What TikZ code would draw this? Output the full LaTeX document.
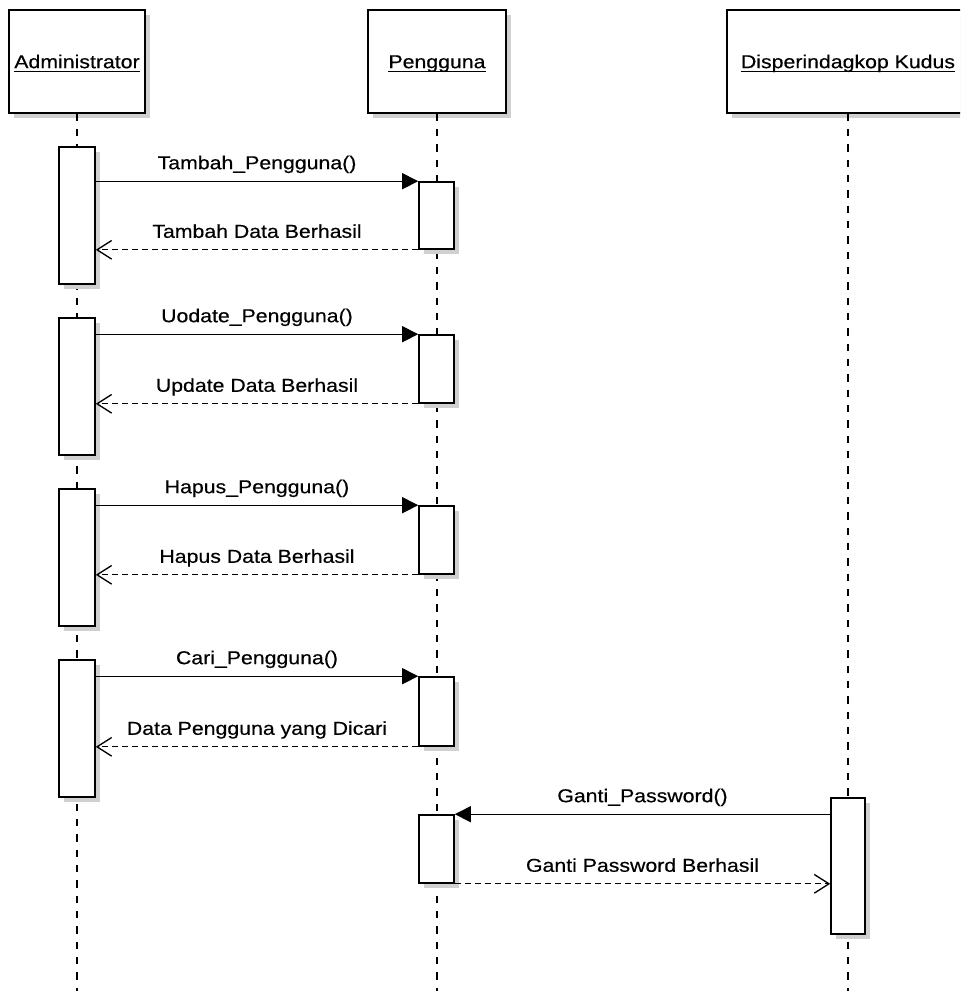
\documentclass[tikz,border=0pt]{standalone}
\usepackage{fontspec}
\setmainfont{Liberation Sans}[FakeStretch=1.14,FakeBold=0.4]
\usetikzlibrary{arrows.meta,fit,shadows}
\definecolor{shadowgrey}{RGB}{208,208,208}
\newcommand\ulbox[1]{\setbox0\hbox{#1}\rlap{\rule[-3pt]{\wd0}{0.8pt}}\box0}
\begin{document}
\begin{tikzpicture}[x=0.75pt,y=-0.75pt,
  every node/.style={font=\fontsize{14pt}{16pt}\selectfont, text=black},
  shad/.style={drop shadow={shadow xshift=3.75pt, shadow yshift=-3.75pt, fill=shadowgrey, opacity=1}},
  headbox/.style={draw, line width=1.2pt, fill=white, shad, inner sep=0pt, text height=10pt, text depth=0pt, minimum height=77.25pt},
  actbox/.style={draw, line width=1.2pt, fill=white, shad, inner sep=0pt},
  lifeline/.style={line width=1pt, dash pattern=on 5.5pt off 6pt},
  call/.style={line width=1pt, -{Triangle[length=12pt,width=12pt]}},
  reply/.style={line width=1pt, dash pattern=on 4.5pt off 3pt, -{Straight Barb[length=11pt,width=14pt]}},
  msglabel/.style={anchor=base, yshift=9pt}
]
\useasboundingbox (0,0) rectangle (960,991);
\clip (0,0) rectangle (960,991);

% lifeline ends
\coordinate (adminEnd) at (77,991);
\coordinate (pengEnd) at (437,991);
\coordinate (dispEnd) at (848,991);

% header boxes
\node[headbox, minimum width=102pt] (admin) at (77,61.5) {\ulbox{Administrator}};
\node[headbox, minimum width=103.5pt] (peng) at (437,61.5) {\ulbox{Pengguna}};
\node[headbox, minimum width=181.5pt] (disp) at (848,61.5) {\ulbox{Disperindagkop Kudus}};

\draw[lifeline] (admin.south) -- (adminEnd);
\draw[lifeline] (peng.south) -- (pengEnd);
\draw[lifeline] (disp.south) -- (dispEnd);

% activation boxes
\node[actbox, fit={(59,147)(95,284)}] (a1) {};
\node[actbox, fit={(59,318)(95,455)}] (a2) {};
\node[actbox, fit={(59,489)(95,626)}] (a3) {};
\node[actbox, fit={(59,660)(95,797)}] (a4) {};
\node[actbox, fit={(419,182)(454,249)}] (p1) {};
\node[actbox, fit={(419,335)(454,403)}] (p2) {};
\node[actbox, fit={(419,506)(454,574)}] (p3) {};
\node[actbox, fit={(419,677)(454,746)}] (p4) {};
\node[actbox, fit={(419,815)(454,883)}] (p5) {};
\node[actbox, fit={(831,798)(865,934)}] (d1) {};

% messages
\draw[call] (a1.east |- p1.north west) -- node[msglabel]{Tambah\_Pengguna()} (p1.north west);
\draw[reply] (p1.south west) -- node[msglabel]{Tambah Data Berhasil} (a1.east |- p1.south west);

\draw[call] (a2.east |- p2.north west) -- node[msglabel]{Uodate\_Pengguna()} (p2.north west);
\draw[reply] (p2.south west) -- node[msglabel]{Update Data Berhasil} (a2.east |- p2.south west);

\draw[call] (a3.east |- p3.north west) -- node[msglabel]{Hapus\_Pengguna()} (p3.north west);
\draw[reply] (p3.south west) -- node[msglabel]{Hapus Data Berhasil} (a3.east |- p3.south west);

\draw[call] (a4.east |- p4.north west) -- node[msglabel]{Cari\_Pengguna()} (p4.north west);
\draw[reply] (p4.south west) -- node[msglabel]{Data Pengguna yang Dicari} (a4.east |- p4.south west);

\draw[call] (d1.west |- p5.north east) -- node[msglabel]{Ganti\_Password()} (p5.north east);
\draw[reply] (p5.south east) -- node[msglabel]{Ganti Password Berhasil} (d1.west |- p5.south east);
\end{tikzpicture}
\end{document}
